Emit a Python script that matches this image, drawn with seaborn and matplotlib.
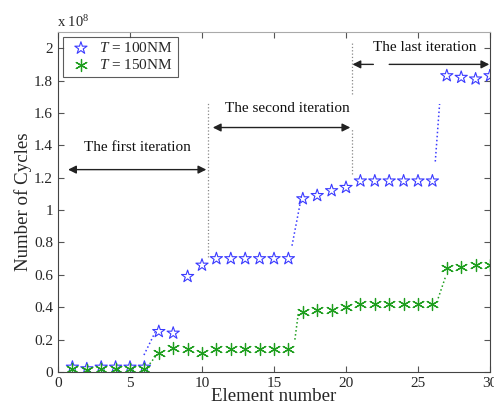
import matplotlib
matplotlib.use("Agg")
import matplotlib.pyplot as plt
import seaborn as sns
import pandas as pd
import numpy as np

# ---- data (values in units of 1e8 cycles) ----
element = list(range(1, 31))
cycles_100 = [0.03, 0.02, 0.03, 0.03, 0.03, 0.03, 0.25, 0.24, 0.59, 0.66,
              0.70, 0.70, 0.70, 0.70, 0.70, 0.70, 1.07, 1.09, 1.12, 1.14,
              1.18, 1.18, 1.18, 1.18, 1.18, 1.18, 1.83, 1.82, 1.81, 1.83]
cycles_150 = [0.02, 0.015, 0.02, 0.02, 0.02, 0.02, 0.12, 0.15, 0.14, 0.12,
              0.14, 0.14, 0.14, 0.14, 0.14, 0.14, 0.37, 0.38, 0.38, 0.40,
              0.42, 0.42, 0.42, 0.42, 0.42, 0.42, 0.64, 0.65, 0.66, 0.66]
series_labels = [r"$T$ = 100NM", r"$T$ = 150NM"]

# dotted jump segments (x0, x1, y0, y1)
jumps_100 = [(5.97, 6.74, 0.105, 0.245), (16.25, 16.9, 0.78, 1.08), (26.2, 26.5, 1.30, 1.655)]
jumps_150 = [(6.2, 6.8, 0.03, 0.10), (16.45, 16.7, 0.20, 0.37), (26.4, 26.9, 0.455, 0.585)]

# iteration separators (x, y0, y1)
separators = [(10.4, 0.71, 1.66), (20.4, 1.22, 1.51), (20.4, 1.72, 2.03)]

# annotations
iter_texts = ["The first iteration", "The second iteration", "The last iteration"]
text_pos = [(5.5, 1.385), (15.9, 1.63), (25.5, 2.006)]
arrows_both = [(0.7, 10.3, 1.25), (10.75, 20.3, 1.51)]
arrow_left = (21.9, 20.45, 1.90)
arrow_right = (23.0, 29.95, 1.90)

x_ticks = [0, 5, 10, 15, 20, 25, 30]
y_ticks = [0, 0.2, 0.4, 0.6, 0.8, 1.0, 1.2, 1.4, 1.6, 1.8, 2.0]

# ---- style ----
sns.set_style("ticks")
plt.rcParams["font.family"] = ["Liberation Serif", "DejaVu Serif"]
plt.rcParams["mathtext.fontset"] = "custom"
plt.rcParams["mathtext.rm"] = "Liberation Serif"
plt.rcParams["mathtext.it"] = "Liberation Serif:italic"

blue = "#3a3aff"
green = "#1e9e1e"

df = pd.DataFrame({
    "element": element * 2,
    "cycles": cycles_100 + cycles_150,
    "series": [series_labels[0]] * 30 + [series_labels[1]] * 30,
})

fig = plt.figure(figsize=(4.94, 4.12), dpi=100)
ax = fig.add_axes([58 / 494, 1 - 372 / 412, (490 - 58) / 494, (372 - 32) / 412])

d1 = df[df.series == series_labels[0]]
d2 = df[df.series == series_labels[1]]
sns.scatterplot(data=d1, x="element", y="cycles", ax=ax, marker="*", s=85,
                facecolor="none", edgecolor=blue, linewidth=0.8, label=series_labels[0])
sns.scatterplot(data=d2, x="element", y="cycles", ax=ax, marker=(6, 2, 0), s=75,
                color=green, linewidth=0.9, label=series_labels[1])

for x0, x1, y0, y1 in jumps_100:
    ax.plot([x0, x1], [y0, y1], ls=":", color=blue, lw=1.1)
for x0, x1, y0, y1 in jumps_150:
    ax.plot([x0, x1], [y0, y1], ls=":", color=green, lw=1.1)
for x, y0, y1 in separators:
    ax.plot([x, x], [y0, y1], ls=":", color="#888888", lw=0.9)

aprops = dict(arrowstyle="<|-|>", color="#222222", lw=1.0, mutation_scale=12,
              shrinkA=0, shrinkB=0)
for x0, x1, y in arrows_both:
    ax.annotate("", xy=(x1, y), xytext=(x0, y), arrowprops=aprops)
sprops = dict(arrowstyle="-|>", color="#222222", lw=1.0, mutation_scale=12,
              shrinkA=0, shrinkB=0)
ax.annotate("", xy=(arrow_left[1], arrow_left[2]), xytext=(arrow_left[0], arrow_left[2]), arrowprops=sprops)
ax.annotate("", xy=(arrow_right[1], arrow_right[2]), xytext=(arrow_right[0], arrow_right[2]), arrowprops=sprops)

for t, (x, y) in zip(iter_texts, text_pos):
    ax.text(x, y, t, ha="center", va="center", fontsize=11, color="#111111")

ax.set_xlim(0, 30)
ax.set_ylim(0, 2.1)
ax.set_xticks(x_ticks)
ax.set_yticks(y_ticks)
ax.set_yticklabels([f"{v:g}" for v in y_ticks])
ax.tick_params(direction="in", top=True, right=True, labelsize=11, length=4,
               color="#555555")
for s in ax.spines.values():
    s.set_color("#444444")
    s.set_linewidth(0.8)
ax.spines["top"].set_color("#aaaaaa")

ax.set_xlabel("Element number", fontsize=13.6, labelpad=-1)
ax.set_ylabel("Number of Cycles", fontsize=13.6, labelpad=1.5)

fig.text(57 / 494, 1 - 22 / 412, r"x 10$^8$", fontsize=10.5, ha="left", va="center")

leg = ax.legend(loc="upper left", fontsize=11, frameon=True, fancybox=False,
                edgecolor="#333333", borderaxespad=0.3, handletextpad=0.3,
                borderpad=0.3, labelspacing=0.2, handlelength=1.8)
leg.get_frame().set_linewidth(0.8)

fig.savefig("out.png", dpi=100)
